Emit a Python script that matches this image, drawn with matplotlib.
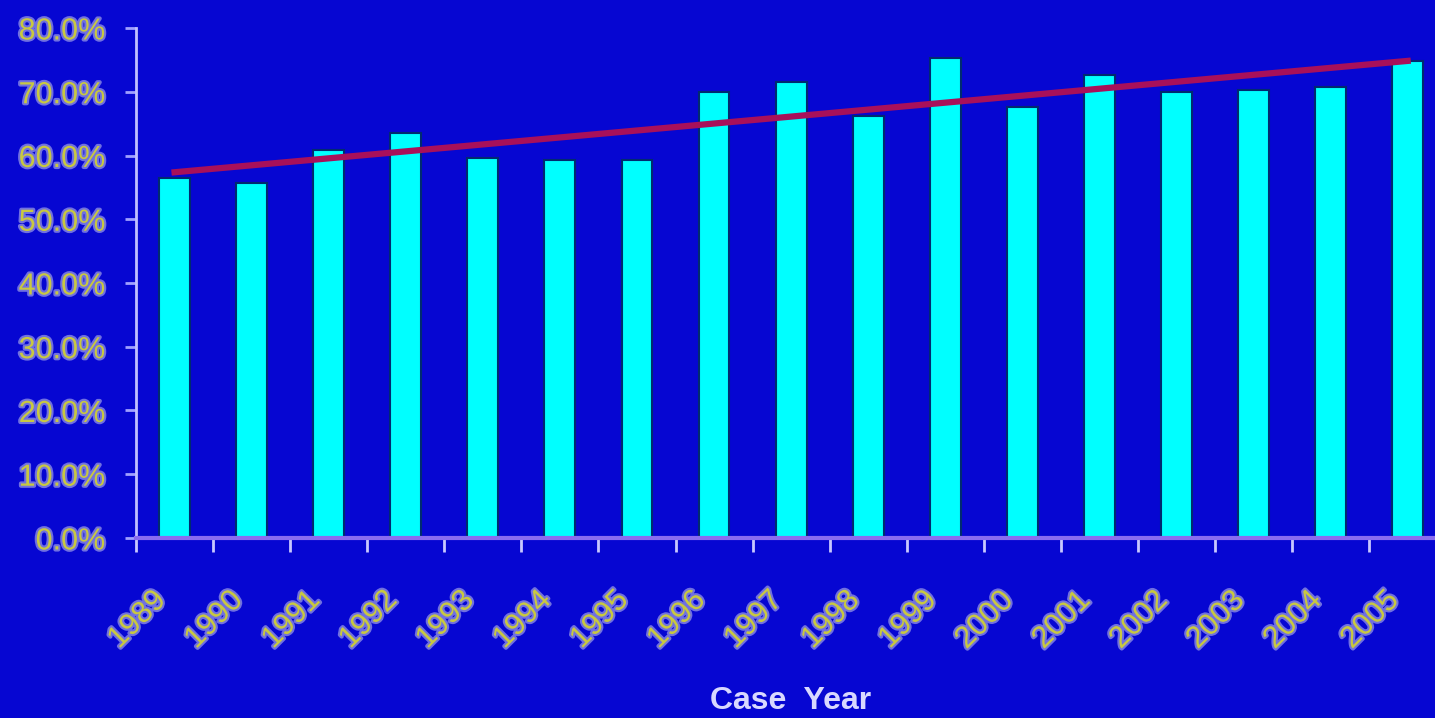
import numpy as np
import matplotlib
matplotlib.use('Agg')
import matplotlib.pyplot as plt
import matplotlib.patheffects as pe
import matplotlib.transforms as mtransforms
from matplotlib.ticker import FuncFormatter, FixedLocator

years = ['1989', '1990', '1991', '1992', '1993', '1994', '1995', '1996', '1997',
         '1998', '1999', '2000', '2001', '2002', '2003', '2004', '2005']
rates = [56.5, 55.7, 60.9, 63.5, 59.6, 59.3, 59.3, 70.0, 71.5,
         66.2, 75.3, 67.6, 72.6, 70.0, 70.3, 70.7, 74.8]

bg = '#0606D2'
fig = plt.figure(figsize=(14.35, 7.18), dpi=100, facecolor=bg)
ax = fig.add_axes([0.0948, 0.2507, 0.913, 0.7103])
ax.set_facecolor(bg)

x = np.arange(len(years))
ax.bar(x, rates, width=0.4, color='#00FFFF', edgecolor='#002a70', linewidth=1.5, zorder=2)

# linear trend through the yearly rates
k, b = np.polyfit(x, rates, 1)
ax.plot(x, k * x + b, color='#A8105A', linewidth=4.5, zorder=3)

ax.set_xlim(-0.5, len(years) - 0.5)
ax.set_ylim(0, 80)
ax.set_yticks(np.arange(0, 81, 10))
ax.yaxis.set_major_formatter(FuncFormatter(lambda v, p: '%.1f%%' % v))

ax.set_xticks(x)
ax.set_xticklabels(years, rotation=45, ha='right', rotation_mode='anchor')
ax.xaxis.set_minor_locator(FixedLocator(np.arange(-0.5, len(years), 1.0)))
ax.tick_params(axis='x', which='major', length=0, pad=34)
ax.tick_params(axis='x', which='minor', length=10, width=2, color='#C8C8FF', direction='out')
ax.tick_params(axis='y', length=8, width=2, color='#A0A0FF', direction='out', pad=14)

outline = [pe.withStroke(linewidth=3, foreground='#7070E0')]
shift = mtransforms.ScaledTranslation(-24 / 100, 0, fig.dpi_scale_trans)
for lab in ax.get_xticklabels():
    lab.set_transform(lab.get_transform() + shift)
for lab in ax.get_xticklabels() + ax.get_yticklabels():
    lab.set_fontsize(22)
    lab.set_family('Liberation Sans')
    lab.set_color('#C8C840')
    lab.set_path_effects(outline)

for s in ['top', 'right']:
    ax.spines[s].set_visible(False)
ax.spines['left'].set_color('#C0C0FF')
ax.spines['left'].set_linewidth(2)
ax.spines['bottom'].set_color('#8A6CF0')
ax.spines['bottom'].set_linewidth(3)

fig.text(0.551, 0.024, 'Case  Year', ha='center', va='center', fontsize=23,
         family='Liberation Sans', fontweight='bold', color='#D8D8FF')

fig.savefig('out.png', dpi=100, facecolor=bg)
